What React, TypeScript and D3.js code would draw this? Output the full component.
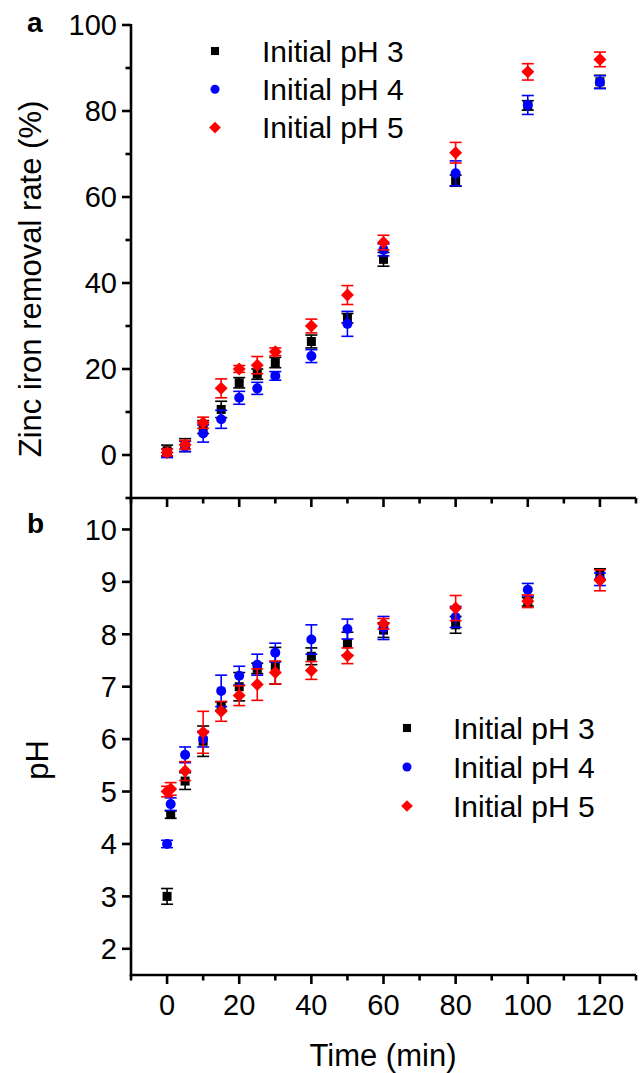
import React from "react";
import * as d3 from "d3";

// ---------- data ----------
const seriesNames = ["Initial pH 3", "Initial pH 4", "Initial pH 5"];
const seriesColors = ["#000000", "#0000ff", "#ff0000"];
const seriesShapes = ["square", "circle", "diamond"];

// panel a: zinc iron removal rate (%)
const timesA = [0, 5, 10, 15, 20, 25, 30, 40, 50, 60, 80, 100, 120];
const rate3 = [1.0, 2.3, 6.5, 10.6, 16.8, 18.8, 21.5, 26.4, 31.8, 45.5, 63.8, 81.3, 86.8];
const rateErr3 = [1.3, 1.5, 1.5, 1.9, 1.2, 1.2, 1.2, 1.5, 1.1, 1.6, 1.3, 1.1, 1.5];
const rate4 = [0.4, 2.0, 5.0, 8.3, 13.3, 15.5, 18.4, 23.0, 30.5, 47.7, 65.5, 81.4, 86.7];
const rateErr4 = [1.0, 1.2, 2.0, 2.1, 1.5, 1.4, 1.0, 1.5, 2.9, 1.4, 2.9, 2.2, 1.5];
const rate5 = [0.6, 2.4, 7.5, 15.5, 20.0, 20.9, 24.0, 30.0, 37.2, 49.4, 70.3, 89.1, 92.0];
const rateErr5 = [0.8, 1.0, 1.3, 2.2, 0.8, 2.0, 0.9, 1.6, 2.2, 1.7, 2.4, 1.9, 1.7];

// panel b: pH
const timesB = [0, 1, 5, 10, 15, 20, 25, 30, 40, 50, 60, 80, 100, 120];
const ph3 = [3.0, 4.56, 5.2, 5.96, 6.63, 7.0, 7.35, 7.4, 7.58, 7.82, 8.08, 8.18, 8.62, 9.15];
const phErr3 = [0.15, 0.07, 0.16, 0.29, 0.08, 0.27, 0.1, 0.35, 0.16, 0.22, 0.14, 0.16, 0.08, 0.1];
const ph4 = [4.0, 4.76, 5.7, 6.0, 6.92, 7.21, 7.42, 7.65, 7.9, 8.1, 8.12, 8.33, 8.85, 9.05];
const phErr4 = [0.07, 0.12, 0.15, 0.15, 0.3, 0.18, 0.2, 0.18, 0.28, 0.19, 0.22, 0.2, 0.12, 0.12];
const ph5 = [5.0, 5.05, 5.39, 6.13, 6.53, 6.83, 7.04, 7.27, 7.31, 7.59, 8.2, 8.5, 8.63, 9.03];
const phErr5 = [0.1, 0.12, 0.18, 0.4, 0.19, 0.19, 0.3, 0.22, 0.17, 0.15, 0.1, 0.24, 0.12, 0.2];

const xMajorTicks = [0, 20, 40, 60, 80, 100, 120];
const xMinorTicks = [-10, 10, 30, 50, 70, 90, 110, 130];
const yaMajorTicks = [0, 20, 40, 60, 80, 100];
const yaMinorTicks = [-10, 10, 30, 50, 70, 90];
const ybMajorTicks = [2, 3, 4, 5, 6, 7, 8, 9, 10];

const FONT = "'Liberation Sans', Arial, Helvetica, sans-serif";

// ---------- layout ----------
const X0 = 131, X1 = 636;
const A_TOP = 25, A_BOT = 498;
const B_TOP = 498, B_BOT = 975;

const x = d3.scaleLinear().domain([-10, 130]).range([X0, X1]);
const yA = d3.scaleLinear().domain([-10, 100]).range([A_BOT, A_TOP]);
const yB = d3.scaleLinear().domain([1.5, 10.6]).range([B_BOT, B_TOP]);

function Marker({ shape, cx, cy, color, s = 1 }: any) {
  if (shape === "square") {
    const h = 4.5 * s;
    return <rect x={cx - h} y={cy - h} width={2 * h} height={2 * h} fill={color} />;
  }
  if (shape === "circle") return <circle cx={cx} cy={cy} r={5 * s} fill={color} />;
  const w = 6.5 * s, hh = 6.5 * s;
  return (
    <path d={`M${cx},${cy - hh}L${cx + w},${cy}L${cx},${cy + hh}L${cx - w},${cy}Z`} fill={color} />
  );
}

function Series({ times, vals, errs, y, color, shape }: any) {
  const cap = 6;
  return (
    <g>
      {times.map((t: number, i: number) => {
        const cx = x(t);
        const y1 = y(vals[i] + errs[i]);
        const y2 = y(vals[i] - errs[i]);
        return (
          <g key={"e" + i} stroke={color} strokeWidth={1.6}>
            <line x1={cx} x2={cx} y1={y1} y2={y2} />
            <line x1={cx - cap} x2={cx + cap} y1={y1} y2={y1} />
            <line x1={cx - cap} x2={cx + cap} y1={y2} y2={y2} />
          </g>
        );
      })}
      {times.map((t: number, i: number) => (
        <Marker key={"m" + i} shape={shape} cx={x(t)} cy={y(vals[i])} color={color} />
      ))}
    </g>
  );
}

function Legend({ lx, tx, y0, dy }: any) {
  return (
    <g>
      {seriesNames.map((n, i) => (
        <g key={n}>
          <Marker shape={seriesShapes[i]} cx={lx} cy={y0 + i * dy} color={seriesColors[i]} s={0.9} />
          <text x={tx} y={y0 + i * dy + 10.5} fontSize={30} fontFamily={FONT} fill="#000">
            {n}
          </text>
        </g>
      ))}
    </g>
  );
}

export default function App() {
  const aVals = [rate3, rate4, rate5];
  const aErrs = [rateErr3, rateErr4, rateErr5];
  const bVals = [ph3, ph4, ph5];
  const bErrs = [phErr3, phErr4, phErr5];
  const sw = 2.6;
  return (
    <svg
      width={642}
      height={1073}
      style={{ position: "absolute", left: 0, top: 0, background: "#fff" }}
    >
      <rect x={0} y={0} width={642} height={1073} fill="#fff" />
      {/* axes lines */}
      <g stroke="#000" strokeWidth={sw} fill="none">
        <line x1={X0} x2={X0} y1={A_TOP - 1} y2={B_BOT + 1.2} />
        <line x1={X0 - 1.2} x2={X1} y1={A_BOT} y2={A_BOT} />
        <line x1={X0 - 1.2} x2={X1} y1={B_BOT} y2={B_BOT} />
        {/* x ticks bottom (outward) */}
        {xMajorTicks.map((t) => (
          <line key={"xb" + t} x1={x(t)} x2={x(t)} y1={B_BOT} y2={B_BOT + 9} />
        ))}
        {xMinorTicks.map((t) => (
          <line key={"xbm" + t} x1={x(t)} x2={x(t)} y1={B_BOT} y2={B_BOT + 5.5} />
        ))}
        {/* x ticks on middle line */}
        {xMajorTicks.map((t) => (
          <line key={"xm" + t} x1={x(t)} x2={x(t)} y1={A_BOT} y2={A_BOT + 9} />
        ))}
        {xMinorTicks.map((t) => (
          <line key={"xmm" + t} x1={x(t)} x2={x(t)} y1={A_BOT} y2={A_BOT + 5.5} />
        ))}
        {/* y ticks panel a */}
        {yaMajorTicks.map((v) => (
          <line key={"ya" + v} x1={X0 - 9} x2={X0} y1={yA(v)} y2={yA(v)} />
        ))}
        {yaMinorTicks.map((v) => (
          <line key={"yam" + v} x1={X0 - 5.5} x2={X0} y1={yA(v)} y2={yA(v)} />
        ))}
        {/* y ticks panel b */}
        {ybMajorTicks.map((v) => (
          <line key={"yb" + v} x1={X0 - 9} x2={X0} y1={yB(v)} y2={yB(v)} />
        ))}
      </g>
      {/* tick labels */}
      <g fontFamily={FONT} fontSize={29} fill="#000">
        {yaMajorTicks.map((v) => (
          <text key={"la" + v} x={117} y={yA(v) + 10.3} textAnchor="end">
            {v}
          </text>
        ))}
        {ybMajorTicks.map((v) => (
          <text key={"lb" + v} x={117} y={yB(v) + 10.3} textAnchor="end">
            {v}
          </text>
        ))}
        {xMajorTicks.map((t) => (
          <text key={"lx" + t} x={x(t)} y={1015} textAnchor="middle">
            {t}
          </text>
        ))}
      </g>
      {/* axis titles */}
      <text
        transform={`translate(41,279) rotate(-90)`}
        textAnchor="middle"
        fontFamily={FONT}
        fontSize={31}
      >
        Zinc iron removal rate (%)
      </text>
      <text
        transform={`translate(48,760) rotate(-90)`}
        textAnchor="middle"
        fontFamily={FONT}
        fontSize={31}
      >
        pH
      </text>
      <text x={383} y={1066} textAnchor="middle" fontFamily={FONT} fontSize={31}>
        Time (min)
      </text>
      <text x={27} y={32} fontFamily={FONT} fontSize={28} fontWeight="bold">
        a
      </text>
      <text x={27} y={533} fontFamily={FONT} fontSize={28} fontWeight="bold">
        b
      </text>
      {/* data */}
      {[0, 1, 2].map((k) => (
        <Series
          key={"a" + k}
          times={timesA}
          vals={aVals[k]}
          errs={aErrs[k]}
          y={yA}
          color={seriesColors[k]}
          shape={seriesShapes[k]}
        />
      ))}
      {[0, 1, 2].map((k) => (
        <Series
          key={"b" + k}
          times={timesB}
          vals={bVals[k]}
          errs={bErrs[k]}
          y={yB}
          color={seriesColors[k]}
          shape={seriesShapes[k]}
        />
      ))}
      <Legend lx={215} tx={262} y0={51} dy={38.3} />
      <Legend lx={407} tx={453} y0={728} dy={39} />
    </svg>
  );
}
